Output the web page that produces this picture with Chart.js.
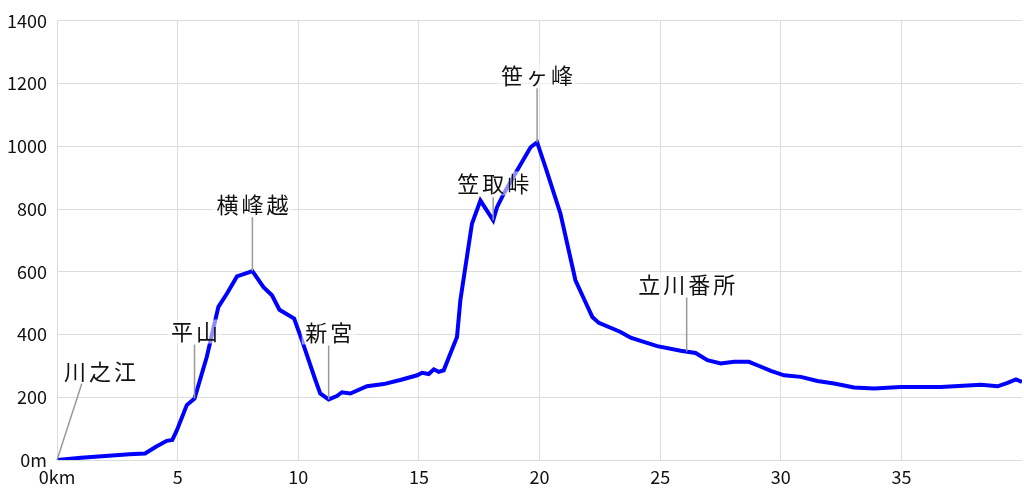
<!DOCTYPE html>
<html>
<head>
<meta charset="utf-8">
<script src="https://cdn.jsdelivr.net/npm/chart.js@4/dist/chart.umd.min.js"></script>
<style>
  html, body { margin: 0; padding: 0; background: #fff; }
  #wrap { width: 1024px; height: 495px; }
</style>
</head>
<body>
<div id="wrap"><canvas id="perfil"></canvas></div>
<script>
// distance (km) / elevation (m)
const kms = [0, 1, 2, 3, 3.65, 4.1, 4.55, 4.78, 4.97, 5.38, 5.70, 6.21, 6.69, 7.04, 7.46, 8.10, 8.56, 8.91, 9.22, 9.83,
  10.15, 10.71, 10.91, 11.26, 11.6, 11.81, 12.16, 12.85, 13.54, 14.23, 14.93, 15.13, 15.41, 15.62, 15.82, 16.03, 16.31, 16.58, 16.72, 17.2,
  17.55, 18.08, 18.24, 18.52, 19.07, 19.63, 19.9, 20.25, 20.87, 21.49, 21.84, 22.19, 22.46, 23.36, 23.78, 24.19, 24.88, 25.85, 26.47, 26.96,
  27.51, 28.06, 28.68, 29.03, 29.59, 30.14, 30.83, 31.52, 32.21, 33.04, 33.87, 34.98, 36.64, 38.3, 38.99, 39.4, 39.75, 40.0];
const elev = [0, 7, 13, 18, 21, 42, 61, 64, 95, 175, 196, 329, 488, 530, 585, 602, 551, 525, 479, 451,
  382, 255, 212, 193, 204, 216, 212, 235, 242, 255, 270, 278, 274, 289, 281, 286, 340, 392, 509, 753,
  827, 764, 806, 849, 923, 997, 1013, 933, 785, 573, 514, 456, 437, 408, 390, 380, 363, 348, 341, 318,
  308, 313, 313, 302, 284, 270, 265, 252, 244, 231, 228, 233, 233, 240, 235, 246, 257, 249];

// place names along the route
const lugares = ['川之江', '平山', '横峰越', '新宮', '笠取峠', '笹ヶ峰', '立川番所'];
const lugarKm = [0, 5.70, 8.10, 11.26, 18.08, 19.9, 26.1];
const lugarElev = [0, 196, 602, 193, 764, 1013, 346];

const xTicks = [0, 5, 10, 15, 20, 25, 30, 35, 40];
const yTicks = [0, 200, 400, 600, 800, 1000, 1200, 1400];

(function(){
  const tickFont = { family: '"Noto Sans CJK JP", "DejaVu Sans", sans-serif', size: 18 };

  // leader lines + labels drawn over the line
  const etiquetas = {
    id: 'etiquetas',
    afterDatasetsDraw(chart) {
      const ctx = chart.ctx, xs = chart.scales.x, ys = chart.scales.y;
      ctx.save();
      ctx.font = '22px "Noto Sans CJK JP", sans-serif';
      if ('letterSpacing' in ctx) ctx.letterSpacing = '3px';
      ctx.textAlign = 'center';
      ctx.textBaseline = 'middle';
      lugares.forEach((nombre, i) => {
        const px = xs.getPixelForValue(lugarKm[i]);
        const py = ys.getPixelForValue(lugarElev[i]);
        let tx = px, ty = py - 67, lx = px, ly = ty + 13;
        if (i === 0) { tx = px + 43; ty = py - 88; lx = px + 25; ly = ty + 11; }
        if (nombre === '笠取峠') { ty = py - 37; ly = ty + 14; }
        ctx.strokeStyle = '#9a9a9a';
        ctx.lineWidth = 1.5;
        ctx.beginPath();
        ctx.moveTo(px, py);
        ctx.lineTo(lx, ly);
        ctx.stroke();
        const w = ctx.measureText(nombre).width;
        ctx.fillStyle = 'rgba(255,255,255,0.55)';
        ctx.fillRect(tx - w / 2 - 2, ty - 12, w + 4, 24);
        ctx.fillStyle = '#111';
        ctx.fillText(nombre, tx + 1.5, ty);
      });
      ctx.restore();
    }
  };

  new Chart(document.getElementById('perfil'), {
    type: 'line',
    data: {
      datasets: [{
        data: kms.map((k, i) => ({ x: k, y: elev[i] })),
        borderColor: '#0000ff',
        borderWidth: 4,
        pointRadius: 0,
        tension: 0,
        fill: false,
      }]
    },
    options: {
      responsive: true,
      maintainAspectRatio: false,
      animation: false,
      layout: { padding: { top: 20, right: 2 } },
      plugins: { legend: { display: false }, tooltip: { enabled: false } },
      scales: {
        x: {
          type: 'linear',
          min: 0, max: 40,
          afterBuildTicks: s => { s.ticks = xTicks.map(v => ({ value: v })); },
          afterFit: s => { s.height = 35; s.paddingRight = 0; },
          grid: { color: c => c.tick && c.tick.value === 40 ? 'rgba(0,0,0,0)' : '#dcdcdc', lineWidth: 1, drawTicks: false },
          border: { display: false },
          ticks: {
            padding: 6, color: '#111', font: tickFont, maxRotation: 0, autoSkip: false,
            callback: v => v === 0 ? '0km' : (v === 40 ? '' : String(v))
          }
        },
        y: {
          min: 0, max: 1400,
          afterBuildTicks: s => { s.ticks = yTicks.map(v => ({ value: v })); },
          afterFit: s => { s.width = 57; },
          grid: { color: '#dcdcdc', lineWidth: 1, drawTicks: false },
          border: { display: false },
          ticks: {
            padding: 10, color: '#111', font: tickFont,
            callback: v => v === 0 ? '0m' : String(v)
          }
        }
      }
    },
    plugins: [etiquetas]
  });
})();
</script>
</body>
</html>
